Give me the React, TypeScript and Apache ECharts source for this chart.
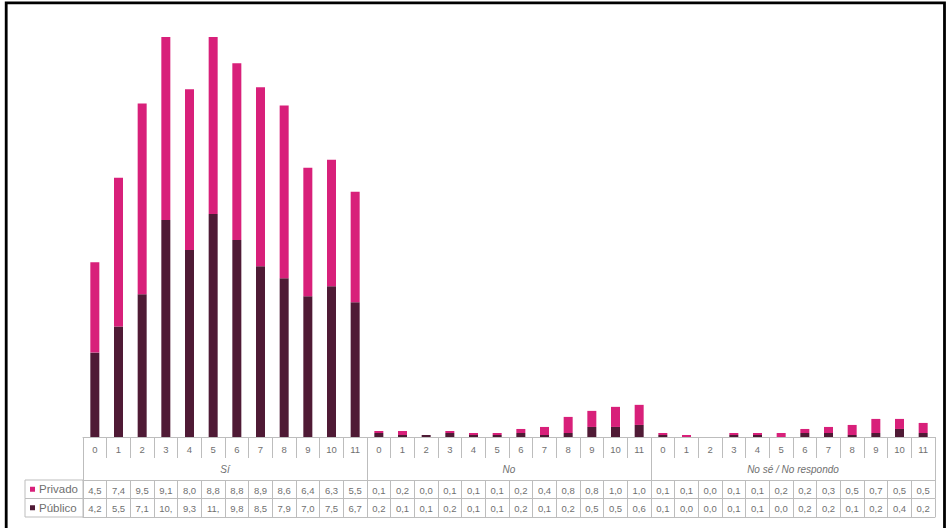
import React, { useEffect, useRef } from "react";
import * as echarts from "echarts";

const groups = ["Sí", "No", "No sé / No respondo"];
const levels = ["0", "1", "2", "3", "4", "5", "6", "7", "8", "9", "10", "11"];
const privado = [
  4.5, 7.4, 9.5, 9.1, 8.0, 8.8, 8.8, 8.9, 8.6, 6.4, 6.3, 5.5,
  0.1, 0.2, 0.0, 0.1, 0.1, 0.1, 0.2, 0.4, 0.8, 0.8, 1.0, 1.0,
  0.1, 0.1, 0.0, 0.1, 0.1, 0.2, 0.2, 0.3, 0.5, 0.7, 0.5, 0.5,
];
const publico = [
  4.2, 5.5, 7.1, 10.8, 9.3, 11.1, 9.8, 8.5, 7.9, 7.0, 7.5, 6.7,
  0.2, 0.1, 0.1, 0.2, 0.1, 0.1, 0.2, 0.1, 0.2, 0.5, 0.5, 0.6,
  0.1, 0.0, 0.0, 0.1, 0.1, 0.0, 0.2, 0.2, 0.1, 0.2, 0.4, 0.2,
];
const seriesNames = ["Privado", "Público"];

const categories: string[] = [];
groups.forEach(() => levels.forEach((l) => categories.push(l)));

const PINK = "#d8207a";
const DARK = "#4f1a35";
const LINE = "#bdbdbd";
const TXT = "#707070";
const FONT = "Liberation Sans";

const fmt = (v: number) => {
  const s = v.toFixed(1).replace(".", ",");
  return s.length > 3 ? s.slice(0, 3) : s;
};

export default function App() {
  const ref = useRef<HTMLDivElement>(null);
  useEffect(() => {
    if (!ref.current) return;
    const chart = echarts.init(ref.current, undefined, { renderer: "svg" });
    const gridLeft = 83;
    const gridBottomY = 437;
    const rowH = 18.5;
    const baseAxis = {
      type: "category" as const,
      gridIndex: 0,
      position: "bottom" as const,
      boundaryGap: true,
    };
    chart.setOption({
      animation: false,
      backgroundColor: "#ffffff",
      grid: { left: gridLeft, right: 14, top: 17, bottom: 528 - gridBottomY },
      yAxis: { type: "value", min: 0, max: 20.9, show: false },
      xAxis: [
        {
          ...baseAxis,
          data: categories,
          offset: 0,
          axisLine: { show: true, lineStyle: { color: LINE, width: 1 } },
          axisTick: { show: true, interval: 0, length: 21, lineStyle: { color: LINE } },
          axisLabel: { interval: 0, margin: 7, fontSize: 9.5, color: TXT, fontFamily: FONT },
        },
        {
          ...baseAxis,
          data: groups,
          offset: 0,
          axisLine: { show: false },
          axisTick: { show: true, interval: 0, length: 43, lineStyle: { color: LINE } },
          axisLabel: { interval: 0, margin: 27, fontSize: 10, color: TXT, fontFamily: FONT, fontStyle: "italic" },
        },
        {
          ...baseAxis,
          data: categories,
          offset: 43,
          axisLine: { show: true, lineStyle: { color: LINE } },
          axisTick: { show: true, interval: 0, length: rowH, lineStyle: { color: LINE } },
          axisLabel: {
            interval: 0,
            margin: 5,
            fontSize: 9.5,
            color: TXT,
            fontFamily: FONT,
            formatter: (_v: string, i: number) => fmt(privado[i]),
          },
        },
        {
          ...baseAxis,
          data: categories,
          offset: 43 + rowH,
          axisLine: { show: true, lineStyle: { color: LINE } },
          axisTick: { show: true, interval: 0, length: rowH, lineStyle: { color: LINE } },
          axisLabel: {
            interval: 0,
            margin: 5,
            fontSize: 9.5,
            color: TXT,
            fontFamily: FONT,
            formatter: (_v: string, i: number) => fmt(publico[i]),
          },
        },
        {
          ...baseAxis,
          data: categories,
          offset: 43 + 2 * rowH,
          axisLine: { show: true, lineStyle: { color: LINE } },
          axisTick: { show: false },
          axisLabel: { show: false },
        },
      ],
      series: [
        {
          name: seriesNames[1],
          type: "bar",
          stack: "total",
          xAxisIndex: 0,
          barWidth: 9,
          itemStyle: { color: DARK },
          data: publico,
        },
        {
          name: seriesNames[0],
          type: "bar",
          stack: "total",
          xAxisIndex: 0,
          barWidth: 9,
          itemStyle: { color: PINK },
          data: privado,
        },
      ],
      graphic: [
        {
          type: "rect",
          shape: { x: 6.2, y: 2.8, width: 938.3, height: 540 },
          style: { fill: "none", stroke: "#000000", lineWidth: 2.8 },
          silent: true,
        },
        {
          type: "rect",
          shape: { x: 25, y: gridBottomY + 43, width: gridLeft - 25, height: rowH },
          style: { fill: "none", stroke: LINE, lineWidth: 1 },
        },
        {
          type: "rect",
          shape: { x: 25, y: gridBottomY + 43 + rowH, width: gridLeft - 25, height: rowH },
          style: { fill: "none", stroke: LINE, lineWidth: 1 },
        },
        {
          type: "rect",
          shape: { x: 30, y: gridBottomY + 43 + rowH / 2 - 2.5, width: 5, height: 5 },
          style: { fill: PINK },
        },
        {
          type: "rect",
          shape: { x: 30, y: gridBottomY + 43 + rowH * 1.5 - 2.5, width: 5, height: 5 },
          style: { fill: DARK },
        },
        {
          type: "text",
          x: 39,
          y: gridBottomY + 43 + rowH / 2,
          style: { text: seriesNames[0], fontSize: 11.5, fill: TXT, fontFamily: FONT, verticalAlign: "middle" },
        },
        {
          type: "text",
          x: 39,
          y: gridBottomY + 43 + rowH * 1.5,
          style: { text: seriesNames[1], fontSize: 11.5, fill: TXT, fontFamily: FONT, verticalAlign: "middle" },
        },
      ],
    });
    return () => chart.dispose();
  }, []);
  return (
    <div
      ref={ref}
      style={{ position: "fixed", left: 0, top: 0, width: 949, height: 528, background: "#fff" }}
    />
  );
}
